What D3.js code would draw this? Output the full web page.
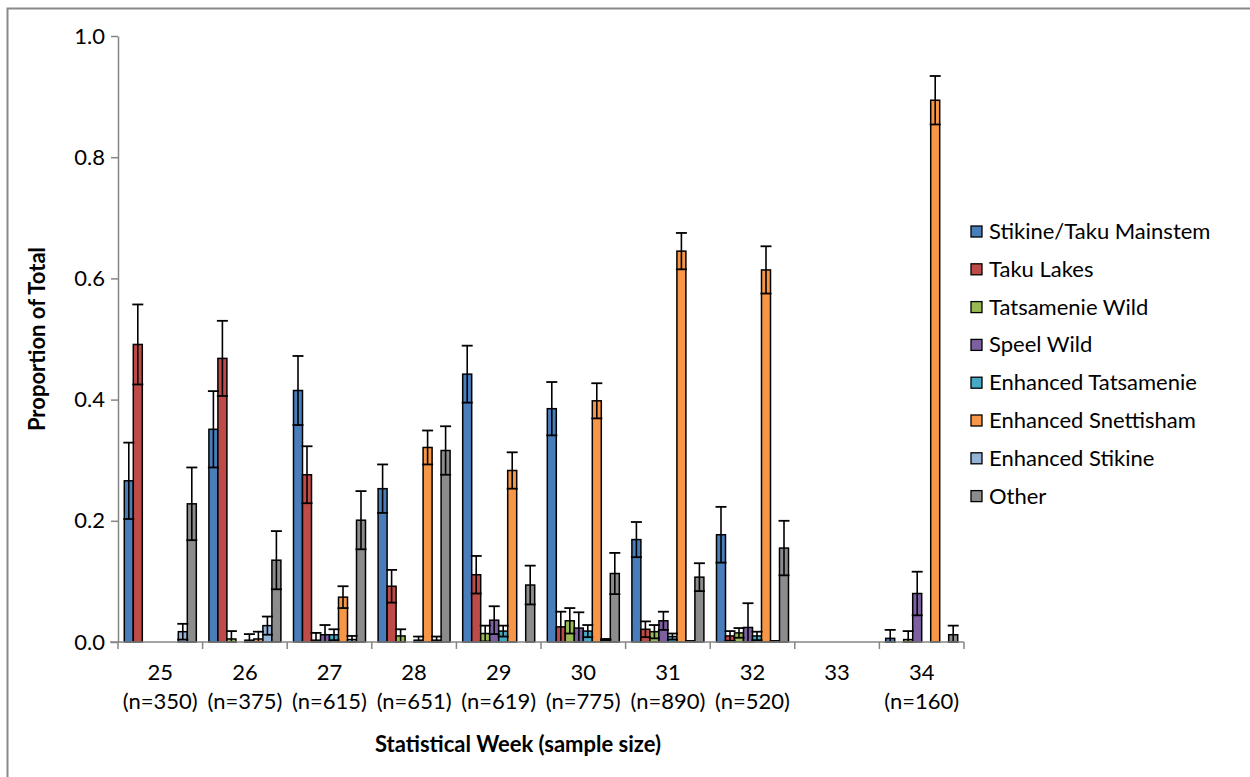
<!DOCTYPE html>
<html>
<head>
<meta charset="utf-8">
<script src="https://cdn.jsdelivr.net/npm/d3@7"></script>
<style>
    body { margin: 0; background: #fff; }
    text { font-family: Lato, 'Open Sans', sans-serif; }
</style>
</head>
<body>
<div class="chart"></div>
<script>
// Weeks and the sample size line under each one
let weeks = ['25', '26', '27', '28', '29', '30', '31', '32', '33', '34'];
let sampleSizes = ['(n=350)', '(n=375)', '(n=615)', '(n=651)', '(n=619)', '(n=775)', '(n=890)', '(n=520)', '', '(n=160)'];

let groups = ['Stikine/Taku Mainstem', 'Taku Lakes', 'Tatsamenie Wild', 'Speel Wild',
    'Enhanced Tatsamenie', 'Enhanced Snettisham', 'Enhanced Stikine', 'Other'];
let colors = ['#4a7ebb', '#be4b48', '#98b954', '#7d60a0', '#46aac5', '#f79646', '#95b3d7', '#8c8c8c'];

// proportions per week (one array per stock)
let mainstem = [0.266, 0.351, 0.415, 0.253, 0.442, 0.385, 0.169, 0.177, 0, 0.006];
let takuLakes = [0.491, 0.468, 0.276, 0.092, 0.111, 0.025, 0.021, 0.010, 0, 0];
let tatsWild = [0, 0.005, 0.003, 0.010, 0.014, 0.035, 0.017, 0.015, 0, 0.004];
let speelWild = [0, 0, 0.012, 0, 0.036, 0.023, 0.035, 0.024, 0, 0.080];
let enhTats = [0, 0.003, 0.012, 0.003, 0.018, 0.018, 0.009, 0.010, 0, 0];
let enhSnett = [0, 0.005, 0.074, 0.321, 0.283, 0.398, 0.645, 0.614, 0, 0.894];
let enhStikine = [0.017, 0.027, 0.004, 0.003, 0, 0.004, 0.002, 0.002, 0, 0];
let other = [0.228, 0.135, 0.201, 0.316, 0.094, 0.113, 0.107, 0.155, 0, 0.012];

// +/- error for the same cells (null = no error bar drawn)
let mainstemErr = [0.063, 0.063, 0.057, 0.040, 0.047, 0.044, 0.029, 0.046, null, 0.014];
let takuLakesErr = [0.066, 0.062, 0.047, 0.027, 0.031, 0.025, 0.013, 0.008, null, null];
let tatsWildErr = [null, 0.013, 0.012, 0.011, 0.013, 0.021, 0.011, 0.008, null, 0.014];
let speelWildErr = [null, null, 0.016, null, 0.023, 0.026, 0.015, 0.040, null, 0.036];
let enhTatsErr = [null, 0.010, 0.009, 0.006, 0.009, 0.010, 0.005, 0.007, null, null];
let enhSnettErr = [null, 0.012, 0.018, 0.028, 0.030, 0.029, 0.030, 0.039, null, 0.040];
let enhStikineErr = [0.013, 0.015, 0.006, 0.006, null, 0.001, null, null, null, null];
let otherErr = [0.060, 0.048, 0.048, 0.040, 0.032, 0.034, 0.023, 0.045, null, 0.015];

let yTicks = [0, 0.2, 0.4, 0.6, 0.8, 1.0];

let values = [mainstem, takuLakes, tatsWild, speelWild, enhTats, enhSnett, enhStikine, other];
let errors = [mainstemErr, takuLakesErr, tatsWildErr, speelWildErr, enhTatsErr, enhSnettErr, enhStikineErr, otherErr];

// flatten into one row per bar
let data = [];
weeks.forEach((w, i) => {
    groups.forEach((g, j) => {
        data.push({ week: w, group: g, idx: j, value: values[j][i], err: errors[j][i] });
    });
});

let margin = { top: 36, right: 286, bottom: 135, left: 118 },
    width = 1250 - margin.left - margin.right,
    height = 777 - margin.top - margin.bottom;

let labelSize = '22px';

let svg = d3.select('.chart')
    .append('svg')
    .attr('width', 1250)
    .attr('height', 777);

// outer chart frame (only top and left edges are in view)
svg.append('rect')
    .attr('x', 7.5).attr('y', 8.5)
    .attr('width', 1300).attr('height', 900)
    .style('fill', 'none')
    .style('stroke', '#898989')
    .style('stroke-width', 2);

let g = svg.append('g')
    .attr('transform', 'translate(' + margin.left + ',' + margin.top + ')');

let x0 = d3.scaleBand().domain(weeks).range([0, width]).padding(0);
let x1 = d3.scaleBand().domain(d3.range(groups.length))
    .range([6.3, x0.bandwidth() - 6.3]).padding(0);
let y = d3.scaleLinear().domain([0, 1]).range([height, 0]);
let color = d3.scaleOrdinal().domain(groups).range(colors);

// bars
g.selectAll('.bar')
    .data(data.filter(d => d.value > 0))
    .enter().append('rect')
    .attr('class', 'bar')
    .attr('x', d => x0(d.week) + x1(d.idx))
    .attr('y', d => y(d.value))
    .attr('width', x1.bandwidth())
    .attr('height', d => height - y(d.value))
    .style('fill', d => color(d.group))
    .style('stroke', '#000')
    .style('stroke-width', 1.5);

// error bars with caps
let eb = g.selectAll('.err')
    .data(data.filter(d => d.err !== null))
    .enter().append('g')
    .attr('class', 'err')
    .attr('transform', d => 'translate(' + (x0(d.week) + x1(d.idx) + x1.bandwidth() / 2) + ',0)');

eb.append('line')
    .attr('y1', d => y(d.value + d.err))
    .attr('y2', d => y(Math.max(0, d.value - d.err)))
    .style('stroke', '#000').style('stroke-width', 1.6);
eb.append('line')
    .attr('x1', -5.5).attr('x2', 5.5)
    .attr('y1', d => y(d.value + d.err)).attr('y2', d => y(d.value + d.err))
    .style('stroke', '#000').style('stroke-width', 1.8);
eb.append('line')
    .attr('x1', -5.5).attr('x2', 5.5)
    .attr('y1', d => y(Math.max(0, d.value - d.err))).attr('y2', d => y(Math.max(0, d.value - d.err)))
    .style('stroke', '#000').style('stroke-width', 1.8);

// Y axis
let yAxis = g.append('g')
    .call(d3.axisLeft(y).tickValues(yTicks).tickFormat(d3.format('.1f')).tickSizeInner(7).tickSizeOuter(0));
yAxis.select('.domain').style('stroke', '#868686').style('stroke-width', 1.5);
yAxis.selectAll('.tick line').style('stroke', '#868686').style('stroke-width', 1.5);
yAxis.selectAll('.tick text')
    .attr('x', -13)
    .style('font-family', 'Lato, sans-serif')
    .style('font-size', labelSize)
    .style('fill', '#000');

// X axis, ticks sit on the band edges
let xAxis = g.append('g')
    .attr('transform', 'translate(0,' + height + ')');
xAxis.append('line')
    .attr('x1', -8).attr('x2', width)
    .style('stroke', '#868686').style('stroke-width', 1.5);
xAxis.selectAll('.xtick')
    .data(weeks.concat(['end']))
    .enter().append('line')
    .attr('x1', (d, i) => i * x0.bandwidth())
    .attr('x2', (d, i) => i * x0.bandwidth())
    .attr('y1', 0).attr('y2', 7)
    .style('stroke', '#868686').style('stroke-width', 1.5);
xAxis.selectAll('.wk')
    .data(weeks)
    .enter().append('text')
    .attr('x', d => x0(d) + x0.bandwidth() / 2)
    .attr('y', 38)
    .attr('text-anchor', 'middle')
    .style('font-size', labelSize)
    .text(d => d);
xAxis.selectAll('.ns')
    .data(sampleSizes)
    .enter().append('text')
    .attr('x', (d, i) => x0(weeks[i]) + x0.bandwidth() / 2)
    .attr('y', 67)
    .attr('text-anchor', 'middle')
    .style('font-size', labelSize)
    .text(d => d);

// adding names to axes
svg.append('text')
    .attr('text-anchor', 'middle')
    .attr('transform', 'translate(45,339)rotate(-90)')
    .style('font-size', labelSize)
    .style('font-weight', 'bold')
    .text('Proportion of Total');

svg.append('text')
    .attr('text-anchor', 'start')
    .attr('x', 375).attr('y', 752)
    .style('font-size', labelSize)
    .style('font-weight', 'bold')
    .text('Statistical Week (sample size)');

// legend
let legend = svg.selectAll('.legend')
    .data(groups)
    .enter().append('g')
    .attr('class', 'legend')
    .attr('transform', (d, i) => 'translate(971,' + (226 + i * 37.8) + ')');
legend.append('rect')
    .attr('width', 11).attr('height', 11)
    .style('fill', d => color(d))
    .style('stroke', '#000').style('stroke-width', 1.3);
legend.append('text')
    .attr('x', 18).attr('y', 13)
    .style('font-size', labelSize)
    .text(d => d);
</script>
</body>
</html>
